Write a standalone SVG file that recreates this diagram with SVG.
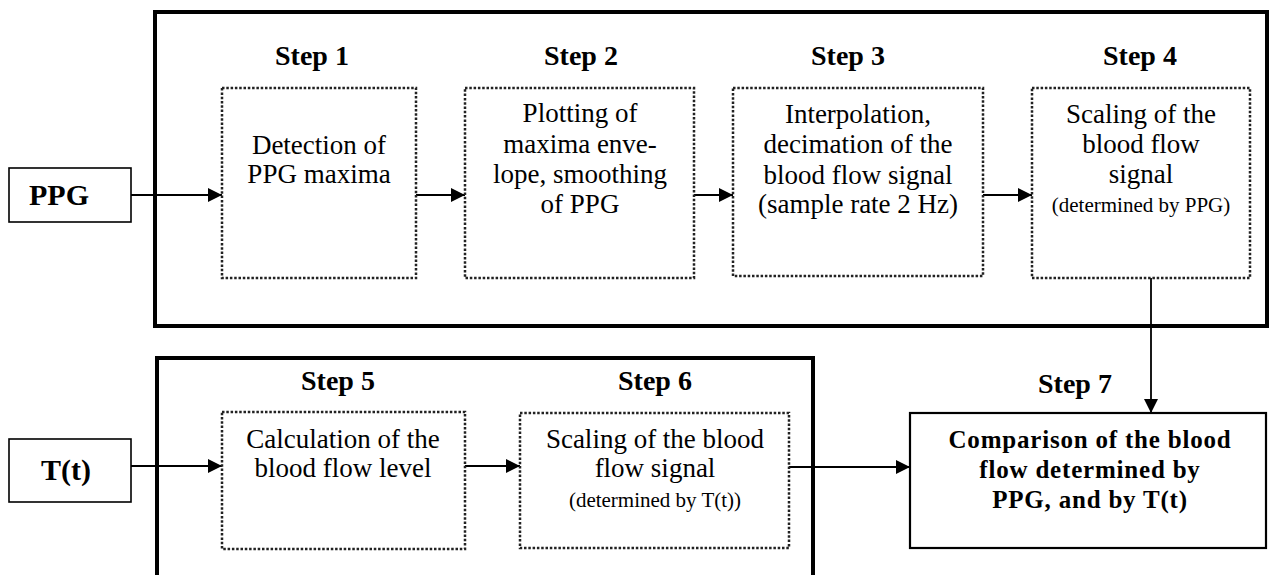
<svg xmlns="http://www.w3.org/2000/svg" width="1271" height="575" viewBox="0 0 1271 575">
<defs>
<marker id="ah" markerUnits="userSpaceOnUse" markerWidth="16" markerHeight="14" refX="14" refY="7" orient="auto">
<path d="M0,0 L14,7 L0,14 z" fill="#000"/>
</marker>
<style>
.frame{fill:none;stroke:#000;stroke-width:4}
.dot{fill:#fff;stroke:#222;stroke-width:2.5;stroke-dasharray:2.5 1.8}
.box{fill:#fff;stroke:#000;stroke-width:1.6}
.box2{fill:#fff;stroke:#000;stroke-width:2.2}
.lbl{font-family:"Liberation Serif","Times New Roman",serif;font-weight:bold;font-size:28px;text-anchor:middle;fill:#000}
.txt{font-family:"Liberation Serif","Times New Roman",serif;font-size:27px;text-anchor:middle;fill:#000}
.sm{font-family:"Liberation Serif","Times New Roman",serif;font-size:21px;text-anchor:middle;fill:#000}
.io{font-family:"Liberation Serif","Times New Roman",serif;font-weight:bold;font-size:30px;text-anchor:middle;fill:#000}
.cmp{font-family:"Liberation Serif","Times New Roman",serif;font-weight:bold;font-size:25px;letter-spacing:0.8px;text-anchor:middle;fill:#000}
.con{fill:none;stroke:#000;stroke-width:1.8}
</style>
</defs>
<rect width="1271" height="575" fill="#fff"/>
<g id="frame-top"><rect class="frame" x="155" y="12" width="1112" height="314"/></g>
<g id="frame-bottom"><rect class="frame" x="157" y="358" width="656" height="230"/></g>
<g id="connectors">
<line class="con" x1="131" y1="195" x2="222" y2="195" marker-end="url(#ah)"/>
<line class="con" x1="416" y1="195" x2="465" y2="195" marker-end="url(#ah)"/>
<line class="con" x1="694" y1="195" x2="733" y2="195" marker-end="url(#ah)"/>
<line class="con" x1="983" y1="195" x2="1032" y2="195" marker-end="url(#ah)"/>
<line class="con" x1="1151" y1="278" x2="1151" y2="413" marker-end="url(#ah)"/>
<line class="con" x1="131" y1="466" x2="222" y2="466" marker-end="url(#ah)"/>
<line class="con" x1="465" y1="466" x2="520" y2="466" marker-end="url(#ah)"/>
<line class="con" x1="789" y1="467" x2="910" y2="467" marker-end="url(#ah)"/>
</g>
<g id="ppg">
<rect class="box" x="9" y="168" width="122" height="54"/>
<text class="io" x="59" y="205">PPG</text>
</g>
<g id="tt">
<rect class="box" x="9" y="439" width="122" height="63"/>
<text class="io" x="66" y="480">T(t)</text>
</g>
<g id="step1">
<text class="lbl" x="312" y="65">Step 1</text>
<rect class="dot" x="222" y="88" width="194" height="190"/>
<text class="txt" x="319" y="154">Detection of</text>
<text class="txt" x="319" y="183">PPG maxima</text>
</g>
<g id="step2">
<text class="lbl" x="581" y="65">Step 2</text>
<rect class="dot" x="465" y="88" width="229" height="190"/>
<text class="txt" x="580" y="122">Plotting of</text>
<text class="txt" x="580" y="153">maxima enve-</text>
<text class="txt" x="580" y="183">lope, smoothing</text>
<text class="txt" x="580" y="213">of PPG</text>
</g>
<g id="step3">
<text class="lbl" x="848" y="65">Step 3</text>
<rect class="dot" x="733" y="88" width="250" height="188"/>
<text class="txt" x="858" y="123">Interpolation,</text>
<text class="txt" x="858" y="153">decimation of the</text>
<text class="txt" x="858" y="184">blood flow signal</text>
<text class="txt" x="858" y="213">(sample rate 2 Hz)</text>
</g>
<g id="step4">
<text class="lbl" x="1140" y="65">Step 4</text>
<rect class="dot" x="1032" y="88" width="218" height="190"/>
<text class="txt" x="1141" y="123">Scaling of the</text>
<text class="txt" x="1141" y="153">blood flow</text>
<text class="txt" x="1141" y="183">signal</text>
<text class="sm" x="1141" y="212">(determined by PPG)</text>
</g>
<g id="step5">
<text class="lbl" x="338" y="390">Step 5</text>
<rect class="dot" x="222" y="412" width="243" height="137"/>
<text class="txt" x="343" y="448">Calculation of the</text>
<text class="txt" x="343" y="477">blood flow level</text>
</g>
<g id="step6">
<text class="lbl" x="655" y="390">Step 6</text>
<rect class="dot" x="520" y="413" width="269" height="135"/>
<text class="txt" x="655" y="448">Scaling of the blood</text>
<text class="txt" x="655" y="477">flow signal</text>
<text class="sm" x="655" y="507">(determined by T(t))</text>
</g>
<g id="step7">
<text class="lbl" x="1075" y="393">Step 7</text>
<rect class="box2" x="910" y="413" width="356" height="135"/>
<text class="cmp" x="1090" y="448">Comparison of the blood</text>
<text class="cmp" x="1090" y="478">flow determined by</text>
<text class="cmp" x="1090" y="508">PPG, and by T(t)</text>
</g>
</svg>
